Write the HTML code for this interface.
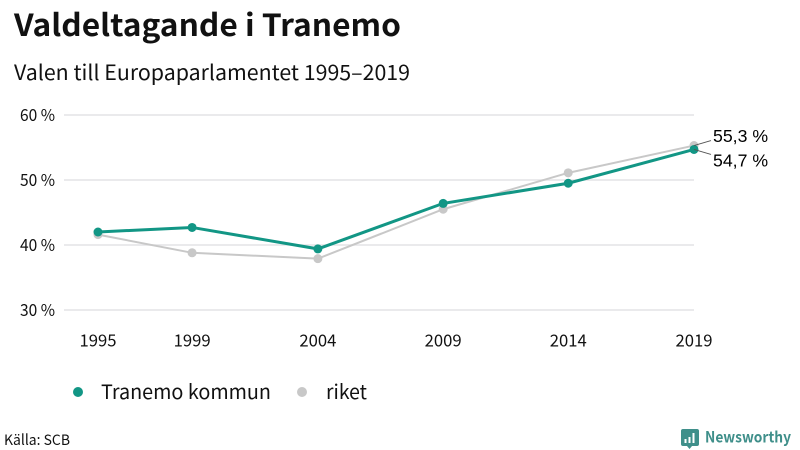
<!DOCTYPE html>
<html lang="sv">
<head>
<meta charset="utf-8">
<title>Valdeltagande i Tranemo</title>
<style>
html,body{margin:0;padding:0;background:#fff;}
body{width:800px;height:450px;overflow:hidden;position:relative;}
svg{display:block;position:absolute;left:0;top:0;}
text{font-family:"Noto Sans CJK SC","Liberation Sans",sans-serif;fill:#111;}
.lab{font-family:"Liberation Sans",sans-serif;fill:#000;}
</style>
</head>
<body>
<svg id="chart" width="800" height="450" viewBox="0 0 800 450" xmlns="http://www.w3.org/2000/svg">
  <text x="14" y="36" font-size="30.5" font-weight="700" textLength="387" lengthAdjust="spacingAndGlyphs">Valdeltagande i Tranemo</text>
  <text x="14" y="80" font-size="21" textLength="396" lengthAdjust="spacingAndGlyphs">Valen till Europaparlamentet 1995–2019</text>
  <g id="grid"></g>
  <g id="yticks"></g>
  <g id="xticks"></g>
  <g id="series"></g>
  <g id="endlabels"></g>

  <circle cx="78" cy="392" r="5" fill="#129685"></circle>
  <text x="101" y="399" font-size="20" textLength="170" lengthAdjust="spacingAndGlyphs">Tranemo kommun</text>
  <circle cx="302" cy="392" r="5" fill="#c8c8c8"></circle>
  <text x="326" y="399" font-size="20" textLength="41" lengthAdjust="spacingAndGlyphs">riket</text>

  <text x="4" y="445" font-size="14.5" textLength="66" lengthAdjust="spacingAndGlyphs">Källa: SCB</text>

  <g>
    <path d="M683 429h14a2 2 0 0 1 2 2v13a2 2 0 0 1-2 2h-5l-2.500 3-2.500-3h-4a2 2 0 0 1-2-2v-13a2 2 0 0 1 2-2z" fill="#3f8f8a"></path>
    <rect x="684.500" y="439" width="2" height="4" fill="#fff"></rect>
    <rect x="688.500" y="437" width="2" height="6" fill="#fff"></rect>
    <rect x="692.500" y="433" width="2" height="10" fill="#fff"></rect>
    <text x="705" y="442.500" font-size="15.500" font-weight="700" textLength="86" lengthAdjust="spacingAndGlyphs" style="fill:#3f8f8a">Newsworthy</text>
  </g>
</svg>
<script>
const yearLabels = ["1995", "1999", "2004", "2009", "2014", "2019"];
const electionDates = [1995.71, 1999.45, 2004.45, 2009.43, 2014.4, 2019.4];
const tranemo = [42.0, 42.7, 39.4, 46.4, 49.5, 54.7];
const riket = [41.6, 38.8, 37.9, 45.5, 51.1, 55.3];
const yTicks = [30, 40, 50, 60];
const endValues = ["55,3 %", "54,7 %"];

const NS = 'http://www.w3.org/2000/svg';
const dateMin = electionDates[0];
const dateMax = electionDates[electionDates.length - 1];
function x(date) { return 98 + (date - dateMin) * (694 - 98) / (dateMax - dateMin); }
function y(value) { return 310 - (value - 30) * (310 - 115) / (60 - 30); }
function make(tag, attrs, parent) {
  const el = document.createElementNS(NS, tag);
  for (const k in attrs) el.setAttribute(k, attrs[k]);
  parent.appendChild(el);
  return el;
}

const gridG = document.getElementById('grid');
const yG = document.getElementById('yticks');
const xG = document.getElementById('xticks');
const seriesG = document.getElementById('series');
const endG = document.getElementById('endlabels');

yTicks.forEach(function (t) {
  const line = make('line', {x1: 64, x2: 694, y1: y(t), y2: y(t), stroke: '#e3e3e6', 'stroke-width': 1.5}, gridG);
  
  
  const label = make('text', {x: 55, y: y(t) + 6, 'text-anchor': 'end', 'font-size': 16.5, textLength: 35, lengthAdjust: 'spacingAndGlyphs'}, yG);
  label.textContent = t + ' %';
  
  
});

electionDates.forEach(function (d, i) {
  const label = make('text', {x: x(d), y: 346.5, 'text-anchor': 'middle', 'font-size': 16.5, textLength: 37, lengthAdjust: 'spacingAndGlyphs'}, xG);
  label.textContent = yearLabels[i];
  
  
});

function drawSeries(values, color, width, radius, name) {
  const pts = values.map(function (v, i) { return x(electionDates[i]) + ',' + y(v); }).join(' ');
  const line = make('polyline', {points: pts, fill: 'none', stroke: color, 'stroke-width': width}, seriesG);
  
  
  values.forEach(function (v, i) {
    const c = make('circle', {cx: x(electionDates[i]), cy: y(v), r: radius, fill: color}, seriesG);
    
    
  });
}
drawSeries(riket, '#c8c8c8', 2, 4.5, 'riket');
drawSeries(tranemo, '#129685', 3, 4.5, 'tranemo');

const lastX = x(dateMax);
const lastRiket = y(riket[riket.length - 1]);
const lastTranemo = y(tranemo[tranemo.length - 1]);

const lead1 = make('line', {x1: lastX, y1: lastRiket, x2: lastX + 17, y2: lastRiket - 5, stroke: '#555', 'stroke-width': 1}, endG);


const lead2 = make('line', {x1: lastX, y1: lastTranemo, x2: lastX + 17, y2: lastTranemo + 5, stroke: '#555', 'stroke-width': 1}, endG);



const endA = make('text', {x: 713, y: lastRiket - 3.5, 'font-size': 17.7, class: 'lab'}, endG);
endA.textContent = endValues[0];


const endB = make('text', {x: 713, y: lastTranemo + 17, 'font-size': 17.7, class: 'lab'}, endG);
endB.textContent = endValues[1];


</script>
</body>
</html>
